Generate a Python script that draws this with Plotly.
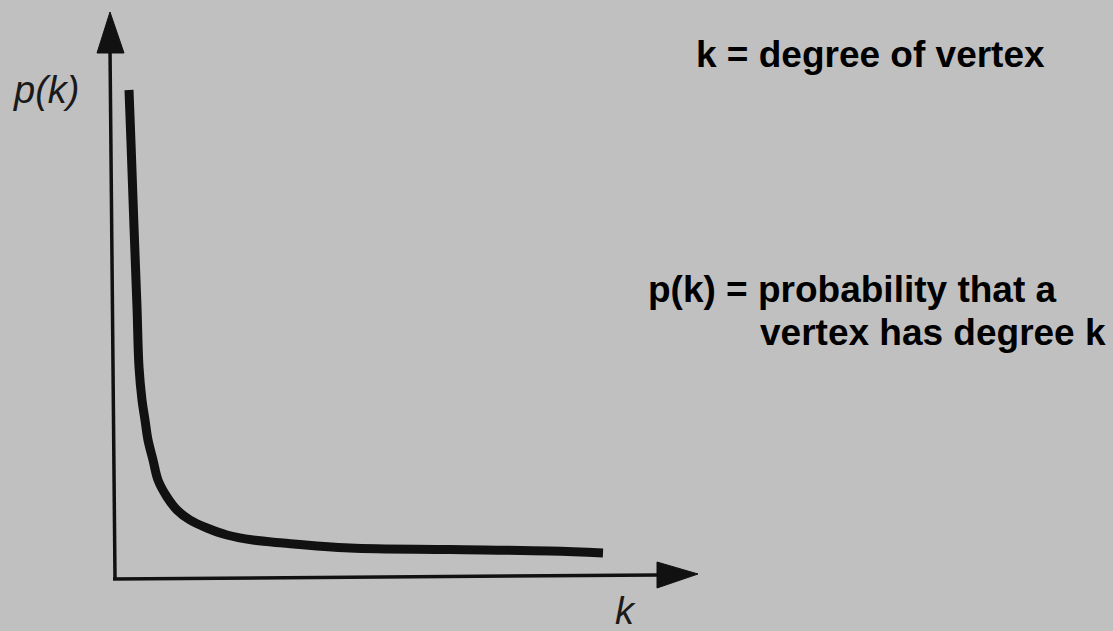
import plotly.graph_objects as go

# Degree distribution p(k) of a scale-free network (schematic heavy-tailed curve)
k_values = [0.32, 0.36, 0.42, 0.48, 0.52, 0.58, 0.64, 0.70, 0.80, 0.90, 1.08, 1.28,
            1.54, 1.88, 2.28, 2.80, 3.40, 4.74, 6.74, 8.74, 9.80]
p_values = [9.76, 8.70, 7.02, 5.42, 4.22, 3.56, 3.16, 2.76, 2.36, 1.96, 1.62, 1.36,
            1.16, 1.00, 0.86, 0.76, 0.70, 0.60, 0.57, 0.54, 0.50]

W, H = 1113, 631
BG = "#c0c0c0"
INK = "#111111"

# axis extents (data units)
X_MIN, X_MAX = -2.26, 20.0
Y_MIN, Y_MAX = -1.06, 11.56
K_AXIS_END = 10.9
P_AXIS_END = 10.6

fig = go.Figure()

fig.add_trace(go.Scatter(
    x=k_values, y=p_values, mode="lines",
    line=dict(color=INK, width=9, shape="spline", smoothing=1.0),
    hoverinfo="skip", showlegend=False,
))

shapes = [
    # vertical p(k) axis
    dict(type="line", xref="x", yref="y", x0=0.04, y0=0.0, x1=-0.06, y1=P_AXIS_END,
         line=dict(color=INK, width=3.5)),
    # horizontal k axis
    dict(type="line", xref="x", yref="y", x0=0.0, y0=-0.02, x1=K_AXIS_END, y1=0.06,
         line=dict(color=INK, width=3.5)),
    # arrowheads
    dict(type="path", xref="x", yref="y",
         path="M -0.06 11.32 L -0.32 10.5 L 0.22 10.5 Z",
         fillcolor=INK, line=dict(color=INK, width=1)),
    dict(type="path", xref="x", yref="y",
         path="M 11.7 0.08 L 10.88 0.32 L 10.88 -0.2 Z",
         fillcolor=INK, line=dict(color=INK, width=1)),
]


def px(x, y):
    return x / W, 1 - y / H


annotations = []
bold = dict(family="Liberation Sans, Arial, sans-serif", size=37, color="#000000")
for text, x, y in [
    ("<b>k = degree of vertex</b>", 694, 55),
    ("<b>p(k) = probability that a</b>", 646, 289),
    ("<b>vertex has degree k</b>", 758, 332),
]:
    ax, ay = px(x, y)
    annotations.append(dict(text=text, x=ax, y=ay, xref="paper", yref="paper",
                            xanchor="left", yanchor="middle", showarrow=False, font=bold))

ital = dict(family="Liberation Sans, Arial, sans-serif", size=38, color="#1a1a1a")
for text, x, y in [("<i>p(k)</i>", 46, 90), ("<i>k</i>", 625, 611)]:
    ax, ay = px(x, y)
    annotations.append(dict(text=text, x=ax, y=ay, xref="paper", yref="paper",
                            xanchor="center", yanchor="middle", showarrow=False, font=ital))

fig.update_layout(
    width=W, height=H,
    margin=dict(l=0, r=0, t=0, b=0),
    paper_bgcolor=BG, plot_bgcolor=BG,
    xaxis=dict(range=[X_MIN, X_MAX], visible=False, fixedrange=True),
    yaxis=dict(range=[Y_MIN, Y_MAX], visible=False, fixedrange=True),
    shapes=shapes, annotations=annotations,
    showlegend=False,
)

fig.write_html("out.html", config={"displayModeBar": False})
